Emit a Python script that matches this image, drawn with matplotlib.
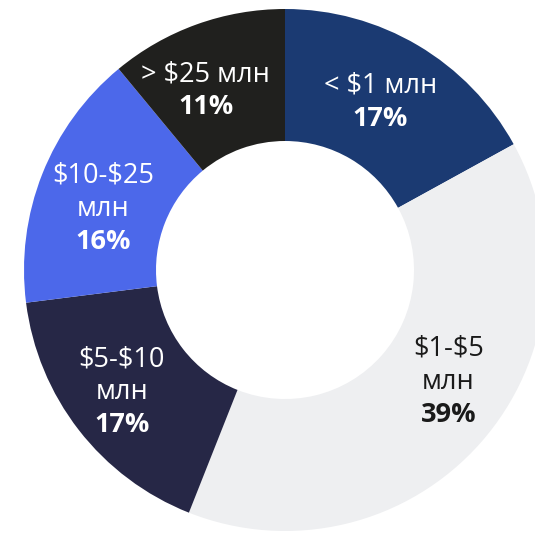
import matplotlib.pyplot as plt
import numpy as np

plt.rcParams['font.family'] = ['Open Sans', 'DejaVu Sans']

# Deal size buckets and their share, clockwise from the top
labels = ["< $1 млн", "$1-$5\nмлн", "$5-$10\nмлн", "$10-$25\nмлн", "> $25 млн"]
shares = [17, 39, 17, 16, 11]
colors = ["#1b3a72", "#eeeff1", "#262746", "#4c68ea", "#20201e"]
text_colors = ["white", "#1a1a1a", "white", "white", "white"]

# ring geometry in pixel units
cx, cy = 285, 263
r_out, r_in = 261, 129
label_r = [193, 198, 204, 192, 196]
angle_nudge = [1, 7, -1, 3, 4]

fig = plt.figure(figsize=(5.35, 5.33), dpi=100)
ax = fig.add_axes([0, 0, 1, 1])

wedges, _ = ax.pie(shares, colors=colors, startangle=90, counterclock=False,
                   center=(cx, cy), radius=r_out,
                   wedgeprops=dict(width=r_out - r_in, edgecolor='none'))

line_h = 33
for w, lab, sh, tc, nudge, lr in zip(wedges, labels, shares, text_colors,
                                     angle_nudge, label_r):
    mid = np.deg2rad((w.theta1 + w.theta2) / 2 + nudge)
    x = cx + lr * np.cos(mid)
    y = cy + lr * np.sin(mid)
    lines = lab.split("\n") + [f"{sh}%"]
    n = len(lines)
    for i, ln in enumerate(lines):
        yy = y + ((n - 1) / 2 - i) * line_h
        bold = i == n - 1
        ax.text(x, yy, ln, ha='center', va='center', color=tc, fontsize=19.5,
                fontweight='bold' if bold else 'normal', parse_math=False)

ax.set_xlim(0, 535)
ax.set_ylim(0, 533)
ax.set_aspect('equal')
ax.axis('off')

plt.savefig('out.png', dpi=100)
